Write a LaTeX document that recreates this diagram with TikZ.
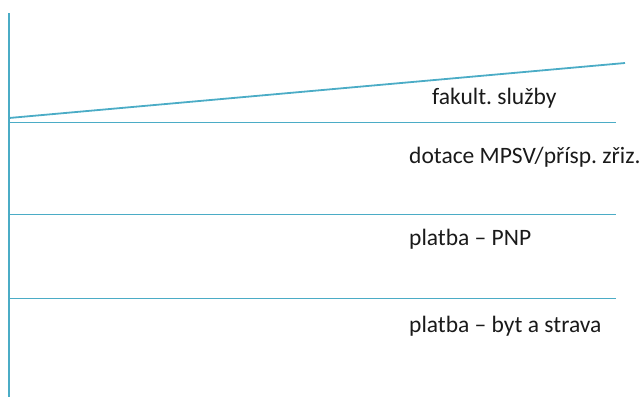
\documentclass[tikz,border=0pt]{standalone}
\usepackage{fontspec}
\setmainfont{Carlito}
\frenchspacing
\definecolor{linecol}{HTML}{4BACC6}
\definecolor{txtcol}{HTML}{1A1A1A}
\tikzset{
  axisline/.style={draw=linecol, line width=1.8pt},
  lbl/.style={anchor=base west, inner sep=0pt, text=txtcol, font=\fontsize{23.5}{28}\selectfont}
}
\begin{document}
\begin{tikzpicture}[x=1pt,y=-1pt]
\useasboundingbox (0,0) rectangle (642,397);
\coordinate (vtop) at (9,13);
\coordinate (vbot) at (9,397);
\coordinate (s0) at (9,118);
\coordinate (s1) at (625,63);
\coordinate (h1a) at (9,122.5);
\coordinate (h1b) at (616,122.5);
\coordinate (h2a) at (9,214.5);
\coordinate (h2b) at (616,214.5);
\coordinate (h3a) at (9,298.5);
\coordinate (h3b) at (616,298.5);
\draw[axisline] (vtop) -- (vbot);
\draw[axisline] (s0) -- (s1);
\draw[axisline] (h1a) -- (h1b);
\draw[axisline] (h2a) -- (h2b);
\draw[axisline] (h3a) -- (h3b);
\node[lbl] (t1) at (432,104) {fakult. služby};
\node[lbl] (t2) at (409,163) {dotace MPSV/přísp. zřiz.};
\node[lbl] (t3) at (409,245.5) {platba – PNP};
\node[lbl] (t4) at (409,332.5) {platba – byt a strava};
\end{tikzpicture}
\end{document}
